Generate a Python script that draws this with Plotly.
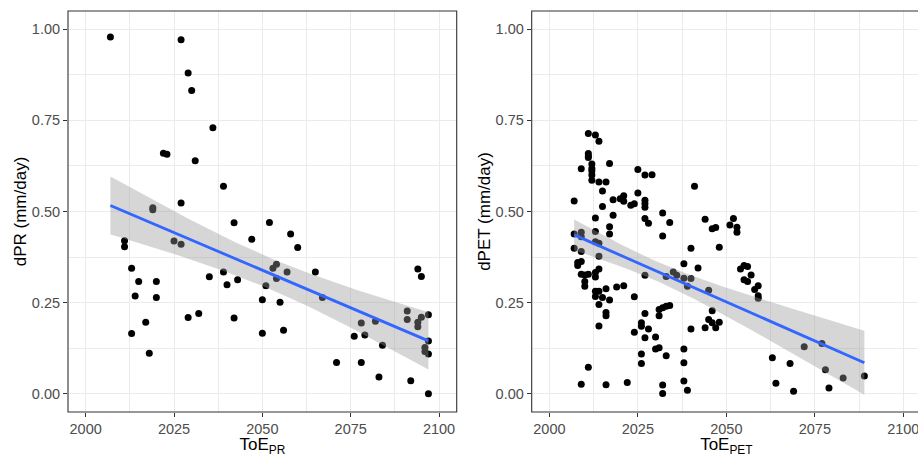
import numpy as np
import plotly.graph_objects as go
from plotly.subplots import make_subplots

# ---------------- data ----------------
pr_toe = [2007, 2027, 2029, 2030, 2036, 2022, 2023, 2031, 2039, 2027, 2019, 2019,
          2011, 2011, 2025, 2027, 2013, 2015, 2020, 2014, 2020, 2017, 2013, 2018,
          2029, 2032, 2035, 2039, 2040, 2043, 2042, 2047, 2042, 2052, 2050, 2051,
          2050, 2053, 2054, 2054, 2055, 2056, 2057, 2058, 2060, 2065, 2067, 2071,
          2076, 2078, 2079, 2078, 2082, 2084, 2083, 2091, 2091, 2092, 2094, 2095,
          2094, 2094, 2095, 2097, 2097, 2096, 2096, 2097, 2097]
pr_d = [0.979, 0.971, 0.880, 0.832, 0.730, 0.660, 0.657, 0.639, 0.569, 0.523, 0.510, 0.505,
        0.420, 0.403, 0.419, 0.410, 0.344, 0.308, 0.308, 0.268, 0.264, 0.196, 0.165, 0.111,
        0.209, 0.220, 0.321, 0.334, 0.299, 0.313, 0.469, 0.424, 0.208, 0.470, 0.258, 0.296,
        0.166, 0.344, 0.355, 0.316, 0.251, 0.174, 0.334, 0.438, 0.401, 0.334, 0.264, 0.086,
        0.158, 0.194, 0.161, 0.086, 0.199, 0.133, 0.046, 0.227, 0.204, 0.036, 0.342, 0.322,
        0.184, 0.196, 0.210, 0.217, 0.145, 0.127, 0.116, 0.109, 0.000]

pet_toe = [2011, 2013, 2014, 2011, 2011, 2011, 2017, 2012, 2012, 2012, 2012, 2012,
           2009, 2025, 2027, 2029, 2014, 2016, 2015, 2041, 2018, 2020, 2021, 2021,
           2025, 2023, 2024, 2027, 2027, 2027, 2015, 2007, 2032, 2034, 2027, 2028,
           2013, 2018, 2032, 2044, 2046, 2047, 2040, 2048, 2017, 2017, 2013, 2007,
           2007, 2009, 2009, 2009, 2013, 2014, 2014,
           2008, 2009, 2008, 2014, 2013, 2009, 2010, 2011, 2013, 2010, 2010, 2013,
           2014, 2013, 2015, 2014, 2017, 2016, 2019, 2021, 2016, 2016, 2014, 2009,
           2011, 2016, 2022, 2024, 2027, 2024, 2026, 2026, 2027, 2028, 2027, 2026,
           2026, 2030, 2030, 2031, 2033, 2031, 2032, 2033, 2034, 2031, 2032, 2032,
           2033, 2035, 2036, 2038, 2042, 2038, 2039, 2040, 2038, 2038, 2038, 2039,
           2040, 2045, 2046, 2044, 2045, 2046, 2047, 2048,
           2052, 2051, 2053, 2053, 2054, 2055, 2056, 2057, 2055, 2056, 2058, 2059,
           2059, 2059, 2063, 2064, 2068, 2069, 2072, 2077, 2078, 2079, 2083, 2089]
pet_d = [0.714, 0.710, 0.693, 0.659, 0.652, 0.648, 0.632, 0.630, 0.618, 0.611, 0.600, 0.586,
         0.617, 0.615, 0.600, 0.601, 0.581, 0.581, 0.556, 0.569, 0.532, 0.535, 0.543, 0.528,
         0.551, 0.517, 0.521, 0.531, 0.522, 0.512, 0.514, 0.529, 0.496, 0.470, 0.481, 0.468,
         0.482, 0.490, 0.433, 0.479, 0.453, 0.456, 0.399, 0.402, 0.458, 0.438, 0.445, 0.438,
         0.399, 0.443, 0.431, 0.390, 0.417, 0.413, 0.377,
         0.360, 0.363, 0.352, 0.342, 0.333, 0.328, 0.326, 0.328, 0.320, 0.308, 0.295, 0.281,
         0.281, 0.267, 0.264, 0.245, 0.257, 0.288, 0.293, 0.296, 0.223, 0.214, 0.186, 0.026,
         0.073, 0.025, 0.031, 0.266, 0.325, 0.169, 0.195, 0.185, 0.220, 0.178, 0.154, 0.109,
         0.083, 0.156, 0.123, 0.126, 0.104, 0.231, 0.236, 0.240, 0.242, 0.214, 0.024, 0.001,
         0.322, 0.334, 0.325, 0.357, 0.345, 0.317, 0.295, 0.316, 0.123, 0.085, 0.035, 0.010,
         0.178, 0.284, 0.228, 0.181, 0.204, 0.195, 0.181, 0.196,
         0.481, 0.463, 0.457, 0.443, 0.342, 0.352, 0.349, 0.326, 0.313, 0.308, 0.286, 0.296,
         0.269, 0.262, 0.099, 0.029, 0.083, 0.007, 0.129, 0.138, 0.066, 0.016, 0.043, 0.049]

x_ticks = [2000, 2025, 2050, 2075, 2100]
y_ticks = [0.0, 0.25, 0.5, 0.75, 1.0]
y_tick_text = ["0.00", "0.25", "0.50", "0.75", "1.00"]


def t_quant(df, z=1.959964):
    return (z + (z**3 + z) / (4 * df) + (5 * z**5 + 16 * z**3 + 3 * z) / (96 * df**2)
            + (3 * z**7 + 19 * z**5 + 17 * z**3 - 15 * z) / (384 * df**3))


def lm_band(x, y, n_out=80):
    x = np.asarray(x, float)
    y = np.asarray(y, float)
    n = len(x)
    b1, b0 = np.polyfit(x, y, 1)
    resid = y - (b0 + b1 * x)
    s = np.sqrt(np.sum(resid**2) / (n - 2))
    xbar = x.mean()
    sxx = np.sum((x - xbar) ** 2)
    xs = np.linspace(x.min(), x.max(), n_out)
    fit = b0 + b1 * xs
    se = s * np.sqrt(1.0 / n + (xs - xbar) ** 2 / sxx)
    t = t_quant(n - 2)
    return xs, fit, fit - t * se, fit + t * se


# figure is slightly wider than the 918px window: the right panel is cut at the edge
W, H = 926, 457
ml, mr, mt, mb = 68, 5, 11, 45
pw = W - ml - mr
left_dom = [0, (456.7 - ml) / pw]
right_dom = [(531.7 - ml) / pw, 1.0]

fig = make_subplots(rows=1, cols=2)

band_col = "rgba(153,153,153,0.4)"
for col, (xx, yy) in enumerate([(pr_toe, pr_d), (pet_toe, pet_d)], start=1):
    fig.add_trace(go.Scatter(x=xx, y=yy, mode="markers",
                             marker=dict(color="black", size=7, line=dict(width=0)),
                             showlegend=False, hoverinfo="skip"), row=1, col=col)
    xs, fit, lo, hi = lm_band(xx, yy)
    fig.add_trace(go.Scatter(x=np.concatenate([xs, xs[::-1]]),
                             y=np.concatenate([hi, lo[::-1]]),
                             fill="toself", fillcolor=band_col, mode="lines",
                             line=dict(width=0), showlegend=False, hoverinfo="skip"),
                  row=1, col=col)
    fig.add_trace(go.Scatter(x=xs, y=fit, mode="lines",
                             line=dict(color="#3366FF", width=2.8),
                             showlegend=False, hoverinfo="skip"), row=1, col=col)

font_family = "Liberation Sans, Arial, sans-serif"
tick_font = dict(size=14.5, color="#4D4D4D")
title_font = dict(size=17, color="black")
common_x = dict(tickvals=x_ticks, ticks="outside", ticklen=4, tickwidth=1.1,
                tickcolor="#333333", tickfont=tick_font, ticklabeloverflow="allow",
                range=[1995, 2105],
                showgrid=True, gridcolor="#EBEBEB", gridwidth=1.1, zeroline=False,
                minor=dict(dtick=12.5, tick0=2000, showgrid=True, gridcolor="#EBEBEB",
                           gridwidth=0.6, ticks=""),
                showline=False, automargin=False)
common_y = dict(tickvals=y_ticks, ticktext=y_tick_text, ticks="outside", ticklen=4,
                tickwidth=1.1, tickcolor="#333333", tickfont=tick_font,
                showgrid=True, gridcolor="#EBEBEB", gridwidth=1.1, zeroline=False,
                range=[-0.05, 1.05],
                minor=dict(dtick=0.125, tick0=0, showgrid=True, gridcolor="#EBEBEB",
                           gridwidth=0.6, ticks=""),
                showline=False, automargin=False)

fig.update_layout(
    width=W, height=H,
    margin=dict(l=ml, r=mr, t=mt, b=mb),
    paper_bgcolor="white", plot_bgcolor="white",
    font=dict(family=font_family),
    xaxis=dict(common_x, domain=left_dom,
               title=dict(text="ToE<sub>PR</sub>", font=title_font, standoff=10)),
    xaxis2=dict(common_x, domain=right_dom,
                title=dict(text="ToE<sub>PET</sub>", font=title_font, standoff=10)),
    yaxis=dict(common_y, title=dict(text="dPR (mm/day)", font=title_font, standoff=0)),
    yaxis2=dict(common_y, title=dict(text="dPET (mm/day)", font=title_font, standoff=0)),
)

border = dict(color="#333333", width=1.1)
for xr, yr in [("x domain", "y domain"), ("x2 domain", "y2 domain")]:
    fig.add_shape(type="rect", xref=xr, yref=yr, x0=0, x1=1, y0=0, y1=1,
                  line=border, layer="above")

fig.write_html("out.html", config={"displayModeBar": False},
               post_script="document.body.style.margin='0px';document.body.style.overflow='hidden';")
